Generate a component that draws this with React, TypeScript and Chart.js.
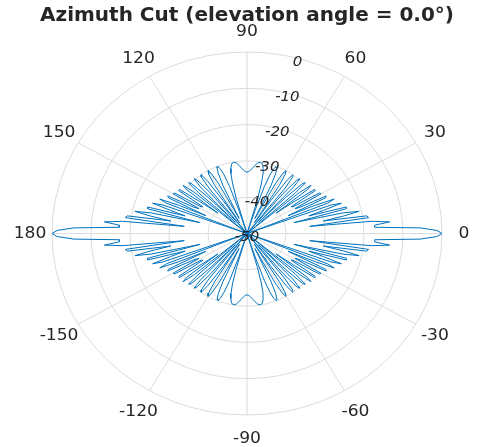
import React, { useEffect, useRef } from 'react';
import { Chart, registerables } from 'chart.js';

Chart.register(...registerables);

const TITLE = 'Azimuth Cut (elevation angle = 0.0°)';
const MAG_MIN = -50;
const MAG_MAX = 0;
const RING_TICKS = [-50, -40, -30, -20, -10, 0];
const ANGLE_TICKS = [0, 30, 60, 90, 120, 150, 180, -150, -120, -90, -60, -30];
const RING_LABEL_ANGLE = 75;

// Power pattern (dB) read for azimuth 0°..90° in 1° steps.
// The cut is symmetric about 0° and about ±90°, so the other quadrants mirror it.
const QUADRANT_DB = [
  0, -1.3, -5.6, -17.2, -17.2, -13.3, -17.8, -33.8, -18.5, -18.9,
  -30.1, -24.7, -20.6, -24.8, -37.6, -23.6, -23.5, -33.4, -29.4, -24.4,
  -27.1, -50, -27.7, -25.7, -31.1, -38.4, -27.6, -27.2, -34.6, -35.9,
  -28.1, -28.3, -36.1, -36.5, -28.9, -28.8, -35.0, -40.6, -30.3, -28.9,
  -32.4, -50, -33.4, -29.5, -30.1, -35.9, -45.7, -32.5, -29.7, -30.5,
  -35.6, -50, -34.4, -30.5, -30.0, -32.2, -39.0, -46.5, -34.4, -30.9,
  -30.0, -31.0, -34.3, -42.6, -45.4, -35.5, -31.9, -30.4, -30.1, -30.9,
  -32.8, -36.3, -43.3, -50, -40.2, -35.6, -33.0, -31.6, -30.7, -30.2,
  -30.1, -30.2, -30.4, -30.8, -31.2, -31.7, -32.1, -32.5, -32.8, -33.0,
  -33.1,
];

const AZIMUTH_DEG: number[] = [];
for (let a = -180; a <= 180; a++) AZIMUTH_DEG.push(a);
const PATTERN_DB = AZIMUTH_DEG.map((a) => {
  let q = Math.abs(a);
  if (q > 90) q = 180 - q;
  return QUADRANT_DB[q];
});

const LINE_COLOR = '#0072BD';
const GRID_COLOR = '#dcdcdc';
const TEXT_COLOR = '#262626';
const FONT = '"DejaVu Sans", sans-serif';
const TEXT_SX = 1.07;

function drawText(ctx: CanvasRenderingContext2D, text: string, x: number, y: number, font: string) {
  ctx.save();
  ctx.translate(x, y);
  ctx.scale(TEXT_SX, 1);
  ctx.font = font;
  ctx.fillStyle = TEXT_COLOR;
  ctx.textAlign = 'center';
  ctx.textBaseline = 'middle';
  ctx.fillText(text, 0, 0);
  ctx.restore();
}

const RAD = Math.PI / 180;
const R_MAX = MAG_MAX - MAG_MIN;

const polarPlugin = {
  id: 'polarPlugin',
  beforeDatasetsDraw(chart: any) {
    const { ctx } = chart;
    const xs = chart.scales.x;
    const ys = chart.scales.y;
    const cx = xs.getPixelForValue(0);
    const cy = ys.getPixelForValue(0);
    ctx.save();
    ctx.strokeStyle = GRID_COLOR;
    ctx.lineWidth = 1;
    RING_TICKS.forEach((t) => {
      const r = t - MAG_MIN;
      if (r <= 0) return;
      const rx = xs.getPixelForValue(r) - cx;
      const ry = cy - ys.getPixelForValue(r);
      ctx.beginPath();
      ctx.ellipse(cx, cy, rx, ry, 0, 0, Math.PI * 2);
      ctx.stroke();
    });
    ANGLE_TICKS.forEach((a) => {
      const px = xs.getPixelForValue(R_MAX * Math.cos(a * RAD));
      const py = ys.getPixelForValue(R_MAX * Math.sin(a * RAD));
      ctx.beginPath();
      ctx.moveTo(cx, cy);
      ctx.lineTo(px, py);
      ctx.stroke();
    });
    ctx.restore();
  },
  afterDatasetsDraw(chart: any) {
    const { ctx } = chart;
    const xs = chart.scales.x;
    const ys = chart.scales.y;
    RING_TICKS.forEach((t) => {
      const r = t - MAG_MIN;
      const px = xs.getPixelForValue(r * Math.cos(RING_LABEL_ANGLE * RAD));
      const py = ys.getPixelForValue(r * Math.sin(RING_LABEL_ANGLE * RAD)) + 4;
      drawText(ctx, String(t), px, py, `italic 14px ${FONT}`);
    });
    ANGLE_TICKS.forEach((a) => {
      const c = Math.cos(a * RAD);
      const s = Math.sin(a * RAD);
      const px = xs.getPixelForValue(R_MAX * c) + 22 * c;
      const py = ys.getPixelForValue(R_MAX * s) - (s > 0 ? 20 : 24) * s;
      drawText(ctx, String(a), px, py, `16px ${FONT}`);
    });
    const area = chart.chartArea;
    drawText(ctx, TITLE, (area.left + area.right) / 2, area.top - 36, `bold 18.7px ${FONT}`);
  },
};

export default function App() {
  const ref = useRef<HTMLCanvasElement | null>(null);
  useEffect(() => {
    document.body.style.margin = '0';
    const canvas = ref.current;
    if (!canvas) return;
    const points = PATTERN_DB.map((db, i) => {
      const r = Math.max(db, MAG_MIN) - MAG_MIN;
      const th = AZIMUTH_DEG[i] * RAD;
      return { x: r * Math.cos(th), y: r * Math.sin(th) };
    });
    const chart = new Chart(canvas, {
      type: 'scatter',
      data: {
        datasets: [
          {
            data: points,
            showLine: true,
            borderColor: LINE_COLOR,
            backgroundColor: LINE_COLOR,
            borderWidth: 1,
            pointRadius: 0,
            pointHoverRadius: 0,
            fill: false,
            tension: 0,
          } as any,
        ],
      },
      options: {
        animation: false,
        responsive: false,
        maintainAspectRatio: false,
        layout: { padding: { left: 52, right: 36, top: 52, bottom: 32 } },
        scales: {
          x: { type: 'linear', min: -R_MAX, max: R_MAX, display: false },
          y: { type: 'linear', min: -R_MAX, max: R_MAX, display: false },
        },
        plugins: { legend: { display: false }, tooltip: { enabled: false }, title: { display: false } },
      },
      plugins: [polarPlugin],
    });
    return () => chart.destroy();
  }, []);
  return (
    <div style={{ width: 478, height: 447, background: '#fff' }}>
      <canvas ref={ref} width={478} height={447} style={{ display: 'block' }} />
    </div>
  );
}
